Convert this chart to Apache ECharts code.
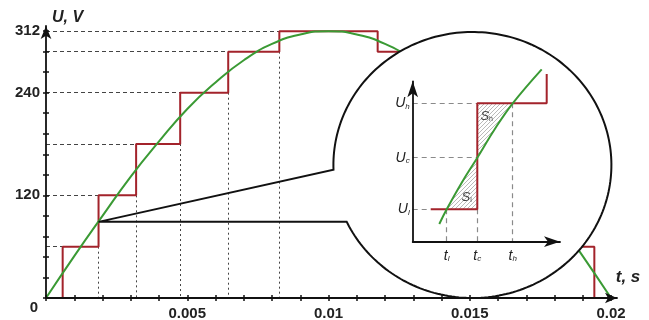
<!DOCTYPE html>
<html><head><meta charset="utf-8">
<script src="https://cdn.jsdelivr.net/npm/echarts@6/dist/echarts.min.js"></script>
<style>html,body{margin:0;padding:0;background:#fff}#c{width:649px;height:320px}</style>
</head><body><div id="c"></div>
<script>
// ---------- main chart data ----------
const xTicks = [0,0.001,0.002,0.003,0.004,0.005,0.006,0.007,0.008,0.009,0.01,0.011,0.012,0.013,0.014,0.015,0.016,0.017,0.018,0.019,0.02];
const xTickLabels = [0.005,0.01,0.015,0.02];
const yTicks = [0,24,48,72,96,120,144,168,192,216,240,264,288,312];
const yTickLabels = [0,120,240,312];
const sineT = [0,0.001,0.002,0.003,0.004,0.005,0.006,0.007,0.008,0.009,0.01,0.011,0.012,0.013,0.014,0.015,0.016,0.017,0.018,0.019,0.02];
const sineU = [0,49,96,142,183,221,252,278,297,308,312,308,297,278,252,221,183,142,96,49,0];
const stepT = [0,0.00059,0.00186,0.00319,0.00475,0.00645,0.00826,0.01174,0.01355,0.01525,0.01681,0.01814,0.01941,0.02];
const stepU = [0,60,120,180,240,288,312,288,240,180,120,60,0,0];
const calloutT = 0.00186, calloutU = 89;

// ---------- inset (schematic) data ----------
const insetTVals = [34,64.6,100];
const insetTSubs = ['l','c','h'];
const insetUVals = [32.4,84,138.4];
const insetUSubs = ['l','c','h'];
const insetCurveX = [26.6,34,49,64.6,82,100,129];
const insetCurveY = [17.7,32.4,59,84,112.5,138.4,172.4];
const insetStepX = [18,64.6,64.6,134,134];
const insetStepY = [32.4,32.4,138.4,138.4,167.7];
const areaLow = [[34,32.4],[49,59],[64.6,84],[64.6,32.4]];
const areaHigh = [[64.6,84],[82,112.5],[100,138.4],[64.6,138.4]];
const areaLabels = [{sub:'l', x:54, y:44.4},{sub:'h', x:74, y:125}];

const RED = '#a3232b', GREEN = '#3a9a34', AX = '#111', TXT = '#222';
const FONT = 'Liberation Sans, Arial, sans-serif';

// hatch pattern
const pc = document.createElement('canvas');
pc.width = 4; pc.height = 4;
const pctx = pc.getContext('2d');
pctx.fillStyle = '#fff'; pctx.fillRect(0,0,4,4);
pctx.strokeStyle = '#a8a8a8'; pctx.lineWidth = 0.8;
pctx.beginPath(); pctx.moveTo(0,4); pctx.lineTo(4,0); pctx.moveTo(-1,1); pctx.lineTo(1,-1); pctx.moveTo(3,5); pctx.lineTo(5,3); pctx.stroke();

const sineData = sineT.map((t,i)=>[t,sineU[i]]);
const stepData = stepT.map((t,i)=>[t,stepU[i]]);
const hGuides = [], vGuides = [];
for (let i=1;i<=6;i++){
  hGuides.push({coords:[[0,stepU[i]],[stepT[i],stepU[i]]]});
  if (i>=2) vGuides.push({coords:[[stepT[i],stepU[i-1]],[stepT[i],0]]});
}
const insetDash = [];
insetUVals.forEach((u,i)=>{
  const xEnd = i===0 ? insetStepX[0] : insetStepX[1];
  insetDash.push({coords:[[0,u],[xEnd,u]]});
});
insetDash.push({coords:[[insetTVals[0],insetUVals[0]],[insetTVals[0],0]]});
insetDash.push({coords:[[insetTVals[1],insetUVals[0]],[insetTVals[1],0]]});
insetDash.push({coords:[[insetTVals[2],insetUVals[2]],[insetTVals[2],0]]});

const mainGrid = {left:46, top:26, width:571, height:272};
const insetGrid = {left:412.7, top:81.3, width:147.3, height:160.4};

const lblStyle = {fontFamily:FONT, fontWeight:'bold', fontSize:15, color:TXT};
const richIt = {
  m:{fontFamily:FONT, fontStyle:'italic', fontSize:14, color:TXT},
  s:{fontFamily:FONT, fontStyle:'italic', fontSize:8, color:TXT, verticalAlign:'bottom', padding:[6,0,0,0]}
};

const chart = echarts.init(document.getElementById('c'), null, {renderer:'canvas'});
chart.setOption({
  animation:false,
  backgroundColor:'#fff',
  grid:[Object.assign({containLabel:false, outerBoundsMode:'none'}, mainGrid), Object.assign({containLabel:false, outerBoundsMode:'none'}, insetGrid)],
  xAxis:[
    {type:'value', gridIndex:0, min:0, max:0.020212, position:'bottom', z:10,
     axisLine:{show:true, onZero:false, lineStyle:{color:AX, width:1.8}, symbol:['none','arrow'], symbolSize:[8,12]},
     axisTick:{show:true, inside:false, length:3, lineStyle:{color:AX, width:1.5}, customValues:xTicks},
     axisLabel:Object.assign({show:true, margin:8, customValues:xTickLabels, formatter:v=>String(v)}, lblStyle),
     splitLine:{show:false},
     name:'t, s', nameLocation:'end', nameGap:11, nameMoveOverlap:false,
     nameTextStyle:{fontFamily:FONT, fontWeight:'bold', fontStyle:'italic', fontSize:17, color:TXT, align:'center', verticalAlign:'bottom', padding:[0,0,12,0]}},
    {type:'value', gridIndex:1, min:0, max:147.3, position:'bottom', z:12,
     axisLine:{show:true, onZero:false, lineStyle:{color:AX, width:1.8}, symbol:['none','arrow'], symbolSize:[8,16]},
     axisTick:{show:false},
     axisLabel:{show:true, margin:7, customValues:insetTVals, rich:richIt,
       formatter:v=>{const i=insetTVals.indexOf(v); return '{m|t}{s|'+insetTSubs[i]+'}';}},
     splitLine:{show:false}},
    {type:'value', gridIndex:0, min:0, max:0.020212, position:'bottom', z:10,
     axisLine:{show:false}, axisLabel:{show:false}, splitLine:{show:false},
     axisTick:{show:true, inside:true, length:3, lineStyle:{color:AX, width:1.5}, customValues:xTicks}}
  ],
  yAxis:[
    {type:'value', gridIndex:0, min:0, max:318, position:'left', z:10,
     axisLine:{show:true, onZero:false, lineStyle:{color:AX, width:1.8}, symbol:['none','arrow'], symbolSize:[8,13]},
     axisTick:{show:true, inside:false, length:3, lineStyle:{color:AX, width:1.5}, customValues:yTicks},
     axisLabel:Object.assign({show:true, margin:6, customValues:yTickLabels,
       formatter:v=> v===0 ? '{z|0}' : String(v),
       rich:{z:{fontFamily:FONT, fontWeight:'bold', fontSize:15, color:TXT, padding:[20,2,0,0]}}}, lblStyle),
     splitLine:{show:false},
     name:'U, V', nameLocation:'end', nameGap:8, nameMoveOverlap:false,
     nameTextStyle:{fontFamily:FONT, fontWeight:'bold', fontStyle:'italic', fontSize:16, color:TXT, align:'left', verticalAlign:'middle', padding:[0,0,0,6]}},
    {type:'value', gridIndex:1, min:0, max:160.4, position:'left', z:12,
     axisLine:{show:true, onZero:false, lineStyle:{color:AX, width:1.8}, symbol:['none','arrow'], symbolSize:[8,16]},
     axisTick:{show:false},
     axisLabel:{show:true, margin:3, customValues:insetUVals, rich:richIt,
       formatter:v=>{const i=insetUVals.indexOf(v); return '{m|U}{s|'+insetUSubs[i]+'}';}},
     splitLine:{show:false}},
    {type:'value', gridIndex:0, min:0, max:318, position:'left', z:10,
     axisLine:{show:false}, axisLabel:{show:false}, splitLine:{show:false},
     axisTick:{show:true, inside:true, length:3, lineStyle:{color:AX, width:1.5}, customValues:yTicks}}
  ],
  series:[
    {type:'lines', coordinateSystem:'cartesian2d', xAxisIndex:0, yAxisIndex:0, z:1, silent:true,
     lineStyle:{color:'#444', width:1, type:[4,3], opacity:1}, data:hGuides},
    {type:'lines', coordinateSystem:'cartesian2d', xAxisIndex:0, yAxisIndex:0, z:1, silent:true,
     lineStyle:{color:'#444', width:1, type:[2,3], opacity:1}, data:vGuides},
    {type:'line', xAxisIndex:0, yAxisIndex:0, data:stepData, step:'end', showSymbol:false, z:2,
     lineStyle:{color:RED, width:2}},
    {type:'line', xAxisIndex:0, yAxisIndex:0, data:sineData, smooth:true, showSymbol:false, z:3,
     lineStyle:{color:GREEN, width:2}},
    // inset
    {type:'lines', coordinateSystem:'cartesian2d', xAxisIndex:1, yAxisIndex:1, z:11, silent:true,
     lineStyle:{color:'#8a8a8a', width:1.2, type:[5,4], opacity:1}, data:insetDash},
    {type:'custom', coordinateSystem:'cartesian2d', xAxisIndex:1, yAxisIndex:1, z:11, silent:true,
     data:[[0],[1]],
     renderItem:(params, api)=>{
       const idx = api.value(0);
       const poly = (idx===0 ? areaLow : areaHigh).map(p=>api.coord(p));
       const L = areaLabels[idx];
       const lp = api.coord([L.x, L.y]);
       return {type:'group', children:[
         {type:'polygon', shape:{points:poly}, style:{fill:{image:pc, repeat:'repeat'}, stroke:null}},
         {type:'text', x:lp[0], y:lp[1], style:{text:'{m|S}{s|'+L.sub+'}', align:'center', verticalAlign:'middle',
           rich:{m:{fontFamily:FONT, fontStyle:'italic', fontSize:13, fill:'#444'}, s:{fontFamily:FONT, fontSize:7, fill:'#444', padding:[5,0,0,0]}}}}
       ]};
     }},
    {type:'line', xAxisIndex:1, yAxisIndex:1, data:insetStepX.map((x,i)=>[x,insetStepY[i]]), showSymbol:false, z:12, clip:false,
     lineStyle:{color:RED, width:2}},
    {type:'line', xAxisIndex:1, yAxisIndex:1, data:insetCurveX.map((x,i)=>[x,insetCurveY[i]]), smooth:0.4, showSymbol:false, z:13, clip:false,
     lineStyle:{color:GREEN, width:2}}
  ]
});

// callout bubble
const cx = 472.4, cy = 165, rx = 139, ry = 133;
const P = chart.convertToPixel({gridIndex:0}, [calloutT, calloutU]);
const pts = [P];
const a0 = 178, a1 = 154.8 + 360;
for (let a = a0; a <= a1; a += 1.5) {
  const r = a*Math.PI/180; pts.push([cx + rx*Math.cos(r), cy + ry*Math.sin(r)]);
}
{ const r = a1*Math.PI/180; pts.push([cx + rx*Math.cos(r), cy + ry*Math.sin(r)]); }
pts.push(P);
chart.setOption({graphic:[
  {type:'ellipse', z:5, silent:true, shape:{cx:cx, cy:cy, rx:rx, ry:ry}, style:{fill:'#fff', stroke:null}},
  {type:'polyline', z:6, silent:true, shape:{points:pts}, style:{stroke:'#111', lineWidth:2, fill:null}}
]});
</script></body></html>
